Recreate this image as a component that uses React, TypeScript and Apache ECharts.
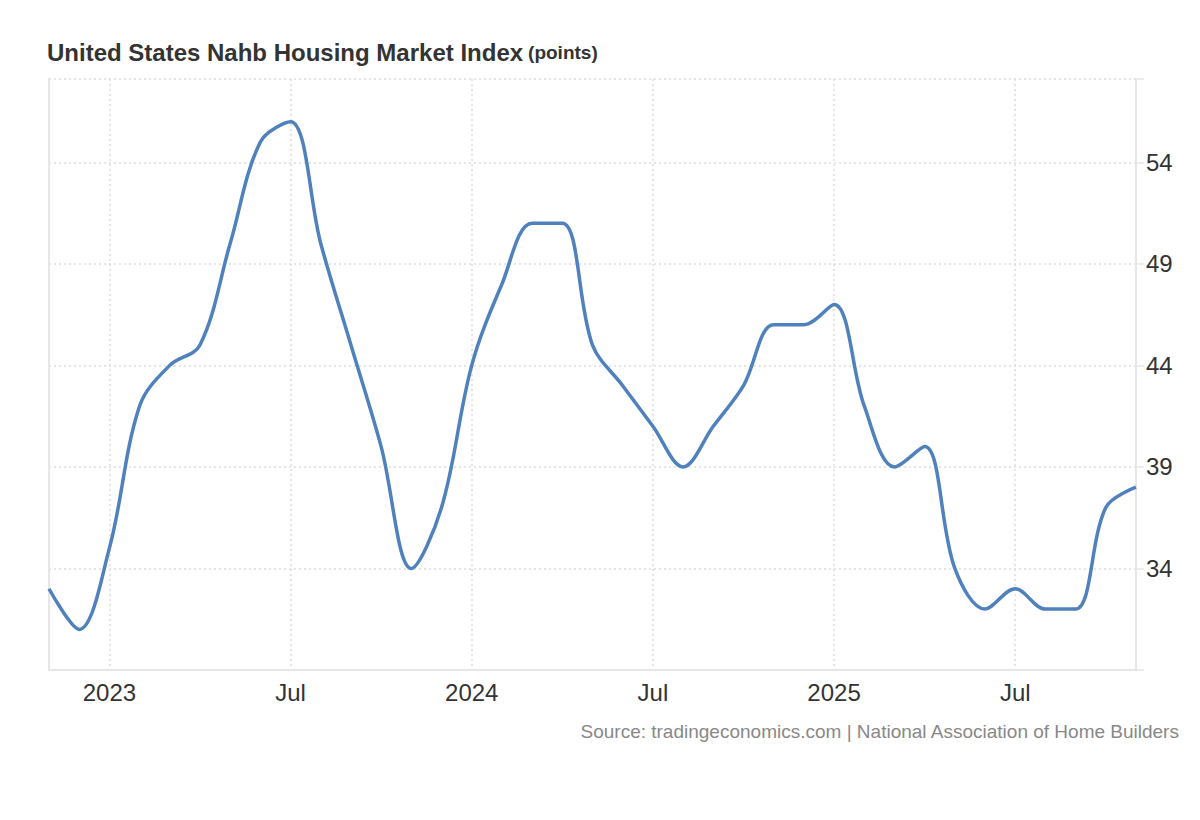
import React, { useEffect, useRef } from "react";
import * as echarts from "echarts";

const months: string[] = [
  "2022-11", "2022-12",
  "2023-01", "2023-02", "2023-03", "2023-04", "2023-05", "2023-06",
  "2023-07", "2023-08", "2023-09", "2023-10", "2023-11", "2023-12",
  "2024-01", "2024-02", "2024-03", "2024-04", "2024-05", "2024-06",
  "2024-07", "2024-08", "2024-09", "2024-10", "2024-11", "2024-12",
  "2025-01", "2025-02", "2025-03", "2025-04", "2025-05", "2025-06",
  "2025-07", "2025-08", "2025-09", "2025-10", "2025-11",
];

const values: number[] = [
  33, 31,
  35, 42, 44, 45, 50, 55,
  56, 50, 45, 40, 34, 37,
  44, 48, 51, 51, 45, 43,
  41, 39, 41, 43, 46, 46,
  47, 42, 39, 40, 34, 32,
  33, 32, 32, 37, 38,
];

const yTickLabels: number[] = [34, 39, 44, 49, 54];

const xLabelFor = (m: string): string => {
  const [y, mo] = m.split("-");
  if (mo === "01") return y;
  if (mo === "07") return "Jul";
  return "";
};

export default function App() {
  const ref = useRef<HTMLDivElement>(null);

  useEffect(() => {
    if (!ref.current) return;
    const chart = echarts.init(ref.current, undefined, { renderer: "svg" });
    const font = "Arial, 'Liberation Sans', Helvetica, sans-serif";
    chart.setOption({
      animation: false,
      backgroundColor: "#ffffff",
      textStyle: { fontFamily: font },
      title: [
        {
          text: "{a|United States Nahb Housing Market Index} {b|(points)}",
          left: 47,
          top: 40,
          padding: 0,
          textStyle: {
            rich: {
              a: { fontSize: 24, fontWeight: "bold", color: "#333333", fontFamily: font },
              b: { fontSize: 19, fontWeight: "bold", color: "#333333", fontFamily: font },
            },
          },
        },
        {
          text: "Source: tradingeconomics.com | National Association of Home Builders",
          right: 20,
          top: 722,
          padding: 0,
          textStyle: { fontSize: 19, fontWeight: "normal", color: "#888888", fontFamily: font },
        },
      ],
      grid: { left: 49, right: 64, top: 79, bottom: 150, containLabel: false },
      xAxis: {
        type: "category",
        data: months,
        boundaryGap: false,
        axisLine: { show: true, lineStyle: { color: "#e6e6e6", width: 2 } },
        axisTick: { show: false },
        axisLabel: {
          interval: (i: number) => xLabelFor(months[i]) !== "",
          formatter: (v: string) => xLabelFor(v),
          color: "#333333",
          fontSize: 24,
          margin: 10,
          fontFamily: font,
        },
        splitLine: {
          show: true,
          interval: (i: number) => xLabelFor(months[i]) !== "",
          lineStyle: { color: "#dddddd", type: [2, 3], width: 1.5 },
        },
      },
      yAxis: [
        {
          type: "value",
          position: "right",
          min: 29,
          max: 58.1,
          interval: 5,
          axisLine: { show: true, lineStyle: { color: "#e6e6e6", width: 2 } },
          axisTick: { show: true, length: 8, lineStyle: { color: "#e6e6e6", width: 1.5 } },
          axisLabel: {
            color: "#333333",
            fontSize: 24,
            margin: 10,
            fontFamily: font,
            formatter: (v: number) => (yTickLabels.includes(Math.round(v * 10) / 10) ? String(v) : ""),
          },
          splitLine: { show: true, lineStyle: { color: "#dddddd", type: [2, 3], width: 1.5 } },
        },
        {
          type: "value",
          position: "left",
          min: 29,
          max: 58.1,
          interval: 5,
          axisLine: { show: true, lineStyle: { color: "#e6e6e6", width: 2 } },
          axisTick: { show: false },
          axisLabel: { show: false },
          splitLine: { show: false },
        },
      ],
      series: [
        {
          type: "line",
          data: values,
          yAxisIndex: 0,
          smooth: 0.35,
          showSymbol: false,
          symbol: "none",
          lineStyle: { color: "#4f81bd", width: 3.5 },
          itemStyle: { color: "#4f81bd" },
        },
      ],
    });
    return () => chart.dispose();
  }, []);

  return <div ref={ref} style={{ width: 1200, height: 820, position: "absolute", left: 0, top: 0 }} />;
}
